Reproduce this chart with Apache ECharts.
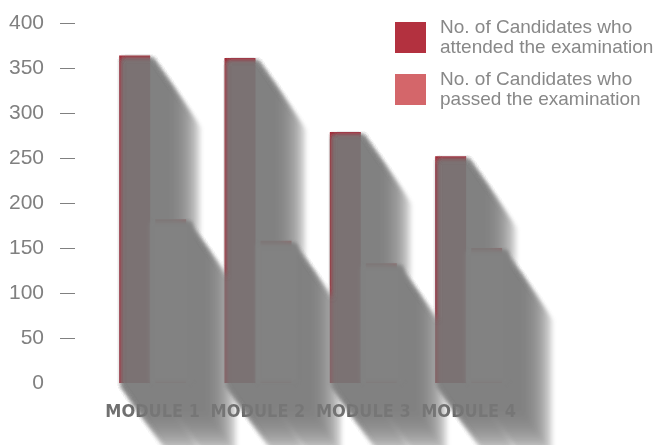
<!DOCTYPE html>
<html>
<head>
<meta charset="utf-8">
<script src="https://cdn.jsdelivr.net/npm/echarts@6/dist/echarts.min.js"></script>
<style>
html,body{margin:0;padding:0;background:#fff;}
#chart{width:661px;height:445px;}
</style>
</head>
<body>
<div id="chart"></div>
<script>
// ---- data ----
const categories = ['MODULE 1', 'MODULE 2', 'MODULE 3', 'MODULE 4'];
const seriesNames = ['No. of Candidates who\nattended the examination', 'No. of Candidates who\npassed the examination'];
const attended = [364, 361, 279, 252];
const passed = [182, 158, 133, 150];
const yTicks = [0, 50, 100, 150, 200, 250, 300, 350, 400];

// ---- style constants ----
const BAR_W = 31;
const BAR_GAP = 4.96;
const LX = 48, LY = 69;     // long-shadow sweep vector
const SX = 2.5, SY = 3;     // start offset of the shadow
const LAYERS = 10, F0 = 0.4, LAYER_ALPHA = 0.233;
const SHADOW_RGB = '121,121,121';
const COVER_RGB = '130,130,130';
const OFF = 3000;           // off-screen offset for blur-only shadows

const shadowData = [];
attended.forEach((v, i) => shadowData.push([i, v, 0]));
passed.forEach((v, i) => shadowData.push([i, v, 1]));

function blurred(shape, type, rgb, alpha, blur) {
  return {
    type: type,
    silent: true,
    shape: shape,
    style: {
      fill: 'rgba(' + rgb + ',' + alpha + ')',
      shadowBlur: blur,
      shadowColor: 'rgba(' + rgb + ',1)',
      shadowOffsetX: OFF,
      shadowOffsetY: 0
    }
  };
}

function renderShadow(params, api) {
  if (params.dataIndexInside !== 0) return null;
  const n = params.dataInsideLength;
  const rects = [];
  for (let k = 0; k < n; k++) {
    const i = api.value(0, k), v = api.value(1, k), s = api.value(2, k);
    const base = api.coord([i, 0]);
    const top = api.coord([i, v]);
    const bx = base[0] - (BAR_W + BAR_GAP / 2) + s * (BAR_W + BAR_GAP);
    rects.push({ s: s, bx: bx, top: top[1], base: base[1],
      x0: bx + SX, x1: bx + SX + BAR_W, yT: top[1] + SY, yB: base[1] + SY });
  }
  const children = [];
  for (let j = 0; j < LAYERS; j++) {
    const f = F0 + (1 - F0) * j / (LAYERS - 1);
    const lx = LX * f, ly = LY * f;
    let d = '';
    rects.forEach(r => {
      const pts = [[r.x0, r.yT], [r.x1, r.yT], [r.x1 + lx, r.yT + ly], [r.x1 + lx, r.yB + ly], [r.x0 + lx, r.yB + ly], [r.x0, r.yB]];
      d += pts.map((p, q) => (q ? 'L' : 'M') + (p[0] - OFF).toFixed(2) + ' ' + p[1].toFixed(2)).join(' ') + ' Z ';
    });
    children.push(blurred({ pathData: d }, 'path', SHADOW_RGB, LAYER_ALPHA, 4));
  }
  // the second series sits fully inside the shadow of the first one
  rects.filter(r => r.s === 1).forEach(r => {
    children.push(blurred({
      x: r.bx - BAR_GAP - OFF, y: r.yT,
      width: BAR_W + BAR_GAP + 6, height: r.base - r.yT
    }, 'rect', COVER_RGB, 1, 4));
  });
  return { type: 'group', children: children };
}

const chart = echarts.init(document.getElementById('chart'), null, { renderer: 'canvas' });
chart.setOption({
  animation: false,
  backgroundColor: '#ffffff',
  grid: { left: 100, right: 139.7, top: 23, bottom: 62, containLabel: false },
  legend: {
    data: seriesNames,
    orient: 'vertical',
    left: 395,
    top: 16,
    padding: 0,
    itemWidth: 31,
    itemHeight: 31,
    itemGap: 9,
    icon: 'rect',
    selectedMode: false,
    textStyle: {
      fontFamily: 'Liberation Sans',
      fontSize: 19,
      lineHeight: 20,
      color: '#888888',
      padding: [0, 0, 3, 9]
    }
  },
  xAxis: {
    type: 'category',
    data: categories,
    axisLine: { show: false },
    axisTick: { show: false },
    splitLine: { show: false },
    axisLabel: {
      margin: 20,
      fontFamily: "'DejaVu Sans Condensed', 'Roboto', sans-serif",
      fontWeight: 'bold',
      fontSize: 18,
      color: '#707070',
      interval: 0
    }
  },
  yAxis: {
    type: 'value',
    min: 0,
    max: 400,
    interval: 50,
    offset: 25,
    axisLine: { show: false },
    splitLine: { show: false },
    axisTick: {
      show: true,
      length: 15,
      customValues: yTicks.filter(t => t !== 0),
      lineStyle: { color: '#808080', width: 1 }
    },
    axisLabel: {
      margin: 31,
      fontFamily: 'Liberation Sans',
      fontSize: 21,
      color: '#808080'
    }
  },
  series: [
    {
      name: seriesNames[0],
      type: 'bar',
      data: attended,
      barWidth: BAR_W,
      barGap: '16%',
      itemStyle: { color: '#b3313f' },
      z: 2
    },
    {
      name: seriesNames[1],
      type: 'bar',
      data: passed,
      barWidth: BAR_W,
      barGap: '16%',
      itemStyle: { color: '#d4666a' },
      z: 2
    },
    {
      name: 'shadow',
      type: 'custom',
      renderItem: renderShadow,
      data: shadowData,
      encode: { x: 0, y: 1 },
      clip: false,
      silent: true,
      z: 5
    }
  ]
});
</script>
</body>
</html>
